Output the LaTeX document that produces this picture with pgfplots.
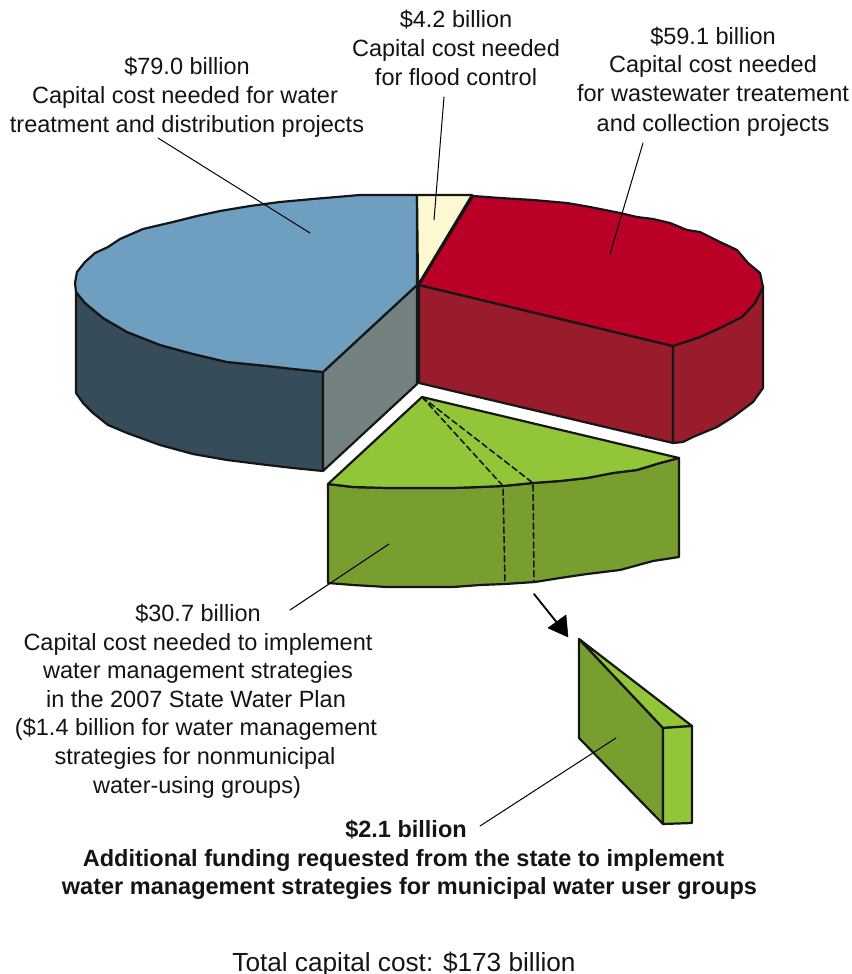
\documentclass[border=0pt]{standalone}
\usepackage{fontspec}
\setmainfont{Liberation Sans}
\usepackage{pgfplots}
\pgfplotsset{compat=1.18}
\definecolor{blueTop}{HTML}{6E9FC0}
\definecolor{blueSide}{HTML}{364C5B}
\definecolor{greyCut}{HTML}{738181}
\definecolor{cream}{HTML}{FCF8D2}
\definecolor{redTop}{HTML}{BA0026}
\definecolor{redSide}{HTML}{991C2D}
\definecolor{greenTop}{HTML}{93C539}
\definecolor{greenSide}{HTML}{789E30}
\definecolor{edge}{HTML}{161616}
\newcommand{\lab}[4][]{\node[anchor=base,inner sep=0pt,text=black!92,font=\fontsize{23.6}{24}\selectfont#1] at (axis cs:#2,#3) {#4};}
\begin{document}
\begin{tikzpicture}
\begin{axis}[
  scale only axis, width=852bp, height=974bp,
  xmin=0, xmax=852, ymin=0, ymax=974, y dir=reverse,
  hide axis, clip=false,
  every axis plot/.append style={line join=round, line cap=round},
  slice/.style={draw=edge, line width=2.2bp},
  leader/.style={draw=black, line width=1bp},
  hidden/.style={draw=edge, line width=1.6bp, dash pattern=on 6bp off 3.5bp},
]
\path (axis cs:0,0) rectangle (axis cs:852,974);

% water treatment and distribution slice
\addplot[slice, fill=blueSide] coordinates {(76,292)(76,393)(83,403)(93,413)(108,425)(127,433)(160,445)(193,454)(227,460)(267,465)(293,468)(323,471)(323,372)(293,369)(267,366)(227,362)(193,354)(160,345)(127,332)(103,318)(85,303)} --cycle;
\addplot[slice, fill=greyCut] coordinates {(323,372)(417,285)(417,384)(323,471)} --cycle;
\addplot[slice, fill=blueTop] coordinates {(417,285)(417,195)(360,195)(313,199)(280,202)(250,206)(220,211)(197,216)(173,222)(143,229)(120,239)(108,247)(95,253)(85,262)(77,272)(75,283)(76,292)(85,303)(103,318)(127,332)(160,345)(193,354)(227,362)(267,366)(293,369)(323,372)} --cycle;

% wastewater slice
\addplot[slice, fill=redSide] coordinates {(419,285)(673,346)(673,443)(419,383)} --cycle;
\addplot[slice, fill=redSide] coordinates {(673,346)(700,337)(720,328)(742,317)(755,303)(763,287)(763,388)(753,402)(733,417)(717,427)(693,437)(683,442)(673,443)} --cycle;
\addplot[slice, fill=redTop] coordinates {(419,285)(473,196)(500,198)(533,200)(567,203)(590,207)(620,213)(637,217)(653,219)(670,223)(687,230)(700,232)(720,242)(737,250)(748,263)(760,273)(763,287)(755,303)(742,317)(720,328)(700,337)(673,346)} --cycle;

% flood control slice
\addplot[slice, fill=cream] coordinates {(417,195)(472,195)(418,285)} --cycle;

% water management strategies slice, pulled out of the pie
\addplot[slice, fill=greenSide] coordinates {(328,484)(353,487)(387,488)(420,488)(453,488)(480,487)(503,486)(533,483)(560,481)(587,478)(613,473)(637,470)(660,463)(679,458)(679,557)(653,561)(620,570)(587,574)(560,578)(535,582)(505,584)(480,585)(453,587)(420,587)(387,587)(353,585)(328,583)} --cycle;
\addplot[slice, fill=greenTop] coordinates {(422,397)(679,458)(660,463)(637,470)(613,473)(587,478)(560,481)(533,483)(503,486)(480,487)(453,488)(420,488)(387,488)(353,487)(328,484)} --cycle;
\addplot[hidden] coordinates {(422,397)(503,486)(505,584)};
\addplot[hidden] coordinates {(422,397)(533,483)(534,582)};

% state funding portion of that slice
\addplot[slice, fill=greenSide] coordinates {(579,639)(663,728)(663,824)(579,738)} --cycle;
\addplot[slice, fill=greenTop] coordinates {(579,639)(692,726)(663,728)} --cycle;
\addplot[slice, fill=greenTop] coordinates {(663,728)(692,726)(692,823)(663,824)} --cycle;

% arrow between the two green pieces
\addplot[draw=black, line width=1.8bp] coordinates {(534,594)(558,624)};
\addplot[draw=black, fill=black, line width=0.5bp] coordinates {(566,615)(548,628)(568,637)} --cycle;

% leader lines
\addplot[leader] coordinates {(158,138)(310,233)};
\addplot[leader] coordinates {(444,97)(434,220)};
\addplot[leader] coordinates {(643,143)(610,254)};
\addplot[leader] coordinates {(290,610)(389,544)};
\addplot[leader] coordinates {(480,826)(616,738)};

% labels
\lab{187}{75}{\$79.0 billion}
\lab{185}{104}{Capital cost needed for water}
\lab{187}{133}{treatment and distribution projects}
\lab{456}{28}{\$4.2 billion}
\lab{456}{57}{Capital cost needed}
\lab{456}{86}{for flood control}
\lab{713}{45}{\$59.1 billion}
\lab{713}{73}{Capital cost needed}
\lab{713}{102}{for wastewater treatement}
\lab{713}{132}{and collection projects}
\lab{198}{621}{\$30.7 billion}
\lab{198}{650}{Capital cost needed to implement}
\lab{198}{678}{water management strategies}
\lab{196}{707}{in the 2007 State Water Plan}
\lab{196}{735}{(\$1.4 billion for water management}
\lab{195}{764}{strategies for nonmunicipal}
\lab{197}{793}{water-using groups)}
\lab[\bfseries]{406}{837}{\$2.1 billion}
\lab[\bfseries]{403.5}{866}{Additional funding requested from the state to implement}
\lab[\bfseries]{409.5}{894}{water management strategies for municipal water user groups}
% the total sits on the bottom edge; its descenders do not widen the page
\node[overlay,anchor=base,inner sep=0pt,text=black!92,font=\fontsize{26.3}{27}\selectfont] at (axis cs:404,971) {Total capital cost: \$173 billion};
\end{axis}
\end{tikzpicture}
\end{document}
